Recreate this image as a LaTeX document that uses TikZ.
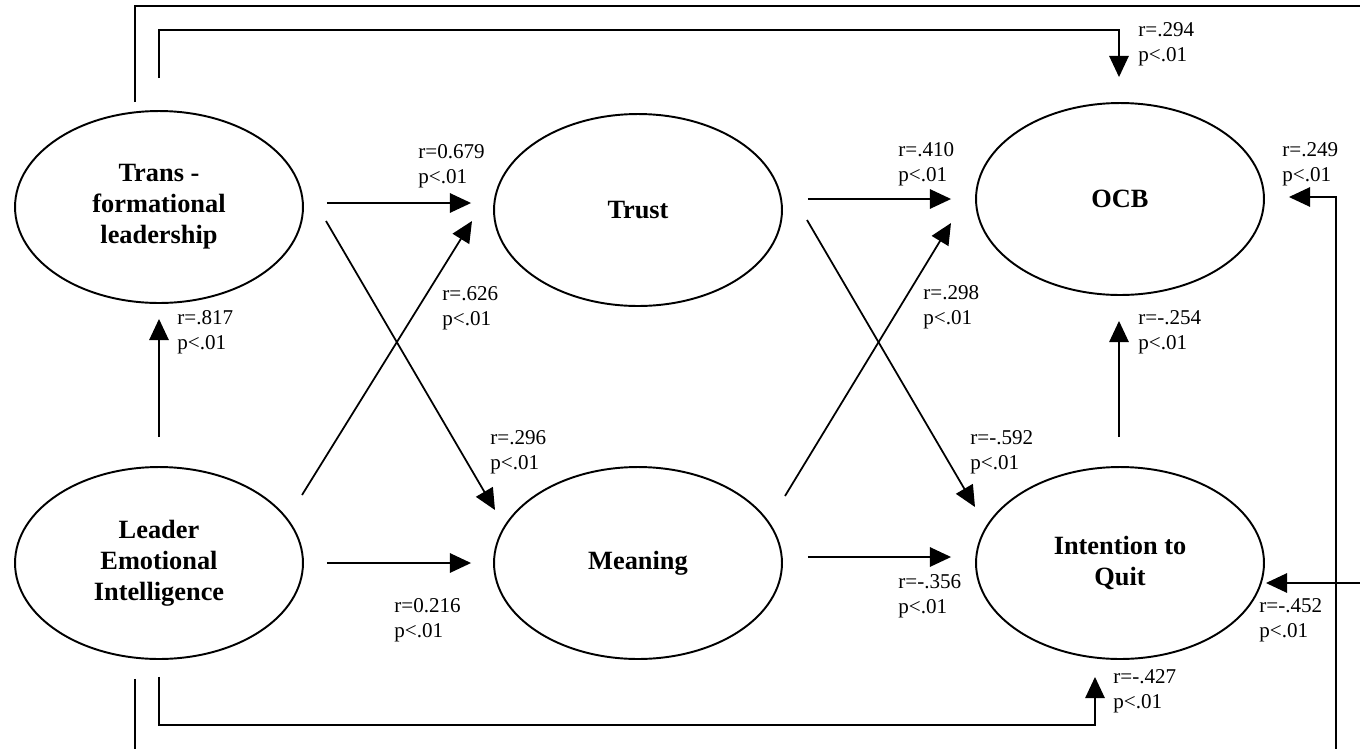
\documentclass[tikz,border=0pt]{standalone}
\usepackage{fontspec}
\setmainfont{Liberation Serif}
\usepackage{tikz}
\usetikzlibrary{shapes.geometric,arrows.meta,calc}

\begin{document}
\begin{tikzpicture}[x=0.02cm, y=-0.02cm,
    construct/.style={draw, ellipse, line width=1.1pt, minimum width=5.76cm, minimum height=3.84cm,
        inner sep=0pt, align=center, font=\fontsize{15}{17.6}\selectfont\bfseries},
    link/.style={line width=1pt, -{Triangle[length=12pt,width=11pt]}},
    coef/.style={anchor=west, inner sep=0pt, align=left, font=\fontsize{12}{14.2}\selectfont}]
  \useasboundingbox (0,0) rectangle (1360,748);
  \node[construct](trans) at (159,207){Trans -\\formational\\leadership};
  \node[construct](lei) at (159,563){Leader\\Emotional\\Intelligence};
  \node[construct](trust) at (638,210){Trust};
  \node[construct](meaning) at (638,563){Meaning};
  \node[construct](ocb) at (1120,199){OCB};
  \node[construct](iq) at (1120,563){Intention to\\Quit};

  \draw[link] ($(lei.north)+(0,-29)$) -- ($(trans.south)+(0,15)$);
  \draw[link] ($(trans.east)+(23,-4)$) -- ($(trust.west)+(-22,-7)$);
  \draw[link] ($(lei.east)+(23,0)$) -- ($(meaning.west)+(-22,0)$);
  \draw[link] ($(lei.center)+(143,-68)$) -- ($(trust.center)+(-166,11)$);
  \draw[link] ($(trans.center)+(167,14)$) -- ($(meaning.center)+(-143,-53)$);
  \draw[link] ($(trust.east)+(25,-11)$) -- ($(ocb.west)+(-24,0)$);
  \draw[link] ($(meaning.center)+(147,-67)$) -- ($(ocb.center)+(-169,24)$);
  \draw[link] ($(trust.center)+(169,10)$) -- ($(iq.center)+(-145,-56)$);
  \draw[link] ($(meaning.east)+(25,-6)$) -- ($(iq.west)+(-24,-6)$);
  \draw[link] ($(iq.north)+(-1,-29)$) -- ($(ocb.south)+(-1,25)$);
  \draw[link] ($(trans.north)+(0,-32)$) -- ++(0,-48) -| ($(ocb.north)+(-1,-25)$);
  \draw[link] ($(trans.north)+(-24,-8)$) -- ++(0,-96) -- ++(1233,0) |- ($(iq.east)+(1,20)$);
  \draw[link] ($(lei.south)+(0,17)$) -- ++(0,48) -| ($(iq.south)+(-25,17)$);
  \draw[link] ($(lei.south)+(-24,19)$) -- ++(0,80) -- ++(1201,0) |- ($(ocb.east)+(24,-2)$);

  \node[coef](c294) at (1138,44.5){r=.294\\p<.01};
  \node[coef](c249) at (1282,164.5){r=.249\\p<.01};
  \node[coef](c679) at (418,166.5){r=0.679\\p<.01};
  \node[coef](c626) at (442,308.5){r=.626\\p<.01};
  \node[coef](c296) at (490,452){r=.296\\p<.01};
  \node[coef](c216) at (394,620.5){r=0.216\\p<.01};
  \node[coef](c410) at (898,164.5){r=.410\\p<.01};
  \node[coef](c298) at (923,307.5){r=.298\\p<.01};
  \node[coef](c254) at (1138,332.5){r=-.254\\p<.01};
  \node[coef](c592) at (970,452.5){r=-.592\\p<.01};
  \node[coef](c356) at (898,596.5){r=-.356\\p<.01};
  \node[coef](c452) at (1259,620){r=-.452\\p<.01};
  \node[coef](c427) at (1113,691.5){r=-.427\\p<.01};
  \node[coef](c817) at (177,332.5){r=.817\\p<.01};
\end{tikzpicture}
\end{document}
